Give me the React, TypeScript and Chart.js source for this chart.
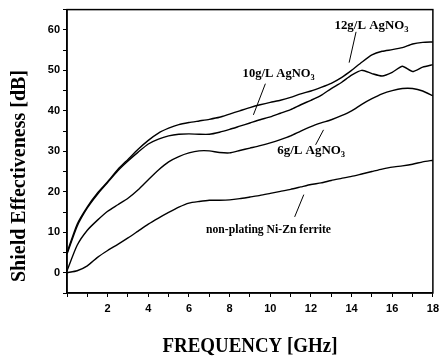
import React, { useEffect, useRef } from "react";
import { Chart, registerables } from "chart.js";

Chart.register(...registerables);

const frequencies = [0, 0.5, 1, 1.5, 2, 2.5, 3, 3.5, 4, 4.5, 5, 5.5, 6, 6.5, 7, 7.5, 8, 8.5, 9, 9.5, 10, 10.5, 11, 11.5, 12, 12.5, 13, 13.5, 14, 14.5, 15, 15.5, 16, 16.5, 17, 17.5, 18];

const ag12 = [5, 12, 16.3, 19.7, 22.5, 25.5, 28, 30.5, 32.7, 34.5, 35.7, 36.6, 37.1, 37.5, 37.9, 38.4, 39.2, 40, 40.8, 41.5, 42.1, 42.6, 43.3, 44.2, 44.9, 45.8, 46.8, 48.2, 50, 52, 53.8, 54.7, 55.1, 55.6, 56.5, 56.9, 57];
const ag10 = [4.6, 11.5, 16, 19.4, 22.3, 25.2, 27.6, 29.8, 31.8, 33, 33.8, 34.2, 34.3, 34.2, 34.2, 34.7, 35.4, 36.2, 37, 37.8, 38.5, 39.4, 40.3, 41.5, 42.6, 43.8, 45.5, 47, 48.8, 50, 49.2, 48.6, 49.5, 51, 49.7, 50.8, 51.4];
const ag6 = [0.5, 6.8, 10.5, 13, 15.2, 16.8, 18.4, 20.5, 23, 25.4, 27.4, 28.7, 29.6, 30.1, 30.1, 29.7, 29.6, 30.2, 30.8, 31.4, 32.1, 32.9, 33.8, 35, 36.1, 37, 37.8, 38.8, 40, 41.6, 43, 44.2, 45, 45.5, 45.5, 44.9, 43.7];
const nonPlating = [0, 0.5, 1.7, 3.8, 5.5, 7, 8.6, 10.3, 12, 13.5, 14.9, 16.2, 17.2, 17.6, 17.9, 17.9, 18, 18.3, 18.7, 19.1, 19.6, 20.1, 20.6, 21.2, 21.8, 22.2, 22.8, 23.3, 23.8, 24.4, 25, 25.6, 26.1, 26.4, 26.8, 27.4, 27.8];

const seriesNames = ["12g/L AgNO3", "10g/L AgNO3", "6g/L AgNO3", "non-plating Ni-Zn ferrite"];
const seriesValues = [ag12, ag10, ag6, nonPlating];

const xTitle = "FREQUENCY [GHz]";
const yTitle = "Shield Effectiveness [dB]";

// label text, sub, text anchor (x,y) in data units, pointer from/to in data units
const annotations = [
  { main: "12g/L AgNO", sub: "3", x: 13.16, y: 61, from: [14.22, 59.5], to: [13.88, 51.9], w: 74 },
  { main: "10g/L AgNO", sub: "3", x: 8.64, y: 49.1, from: [9.76, 46.7], to: [9.17, 39], w: 72 },
  { main: "6g/L AgNO", sub: "3", x: 10.34, y: 30.1, from: [12.62, 35.3], to: [12.23, 31.6], w: 68 },
  { main: "non-plating Ni-Zn ferrite", sub: "", x: 6.84, y: 10.6, from: [11.65, 19.3], to: [11.2, 13.8], w: 125 },
];

function fitText(ctx: CanvasRenderingContext2D, text: string, cx: number, cy: number, width: number, font: string, rot: number) {
  ctx.save();
  ctx.font = font;
  const m = ctx.measureText(text).width;
  ctx.translate(cx, cy);
  ctx.rotate(rot);
  ctx.scale(width / m, 1);
  ctx.textAlign = "center";
  ctx.textBaseline = "middle";
  ctx.fillStyle = "#000";
  ctx.fillText(text, 0, 0);
  ctx.restore();
}

const decorPlugin = {
  id: "decor",
  afterDraw(chart: any) {
    const ctx = chart.ctx as CanvasRenderingContext2D;
    const a = chart.chartArea;
    const xs = chart.scales.x;
    const ys = chart.scales.y;
    ctx.save();
    ctx.strokeStyle = "#000";
    ctx.lineWidth = 1.5;
    ctx.strokeRect(a.left, a.top, a.right - a.left, a.bottom - a.top);
    ctx.restore();

    fitText(ctx, xTitle, (a.left + a.right) / 2, 346, 175, "bold 22px 'Liberation Serif'", 0);
    fitText(ctx, yTitle, 20, 176, 212, "bold 20px 'Liberation Serif'", -Math.PI / 2);

    for (const an of annotations) {
      const px = xs.getPixelForValue(an.x);
      const py = ys.getPixelForValue(an.y);
      ctx.save();
      ctx.fillStyle = "#000";
      ctx.textBaseline = "middle";
      ctx.textAlign = "left";
      const font = "bold 12px 'Liberation Serif'";
      const subFont = "bold 8px 'Liberation Serif'";
      ctx.font = font;
      const mw = ctx.measureText(an.main).width;
      ctx.font = subFont;
      const sw = an.sub ? ctx.measureText(an.sub).width : 0;
      const sc = an.w / (mw + sw);
      ctx.translate(px, py);
      ctx.scale(sc, 1);
      ctx.font = font;
      ctx.fillText(an.main, 0, 0);
      if (an.sub) {
        ctx.font = subFont;
        ctx.fillText(an.sub, mw, 4);
      }
      ctx.restore();
      ctx.save();
      ctx.strokeStyle = "#000";
      ctx.lineWidth = 1;
      ctx.beginPath();
      ctx.moveTo(xs.getPixelForValue(an.from[0]), ys.getPixelForValue(an.from[1]));
      ctx.lineTo(xs.getPixelForValue(an.to[0]), ys.getPixelForValue(an.to[1]));
      ctx.stroke();
      ctx.restore();
    }
  },
};

export default function App() {
  const ref = useRef<HTMLCanvasElement | null>(null);
  useEffect(() => {
    if (!ref.current) return;
    const chart = new Chart(ref.current, {
      type: "line",
      data: {
        datasets: seriesValues.map((vals, i) => ({
          label: seriesNames[i],
          data: frequencies.map((f, j) => ({ x: f, y: vals[j] })),
          borderColor: "#000",
          borderWidth: 1.4,
          pointRadius: 0,
          tension: 0.2,
          fill: false,
        })),
      },
      options: {
        animation: false,
        responsive: false,
        layout: { autoPadding: false, padding: { top: 8, right: 6, left: 0, bottom: 0 } },
        plugins: { legend: { display: false }, tooltip: { enabled: false } },
        scales: {
          x: {
            type: "linear",
            min: 0,
            max: 18,
            afterFit: (s: any) => { s.height = 65; },
            border: { display: true, color: "#000", width: 1.5 },
            grid: { drawOnChartArea: false, drawTicks: true, tickLength: 4, color: "#000", tickColor: "#000" },
            ticks: {
              stepSize: 1,
              autoSkip: false,
              maxRotation: 0,
              padding: 5,
              color: "#000",
              font: { family: "'Liberation Sans'", weight: "bold", size: 11 },
              callback: (v: any) => (v % 2 === 0 && v > 0 ? String(v) : ""),
            },
          },
          y: {
            type: "linear",
            min: -5,
            max: 65,
            afterFit: (s: any) => { s.width = 67; },
            border: { display: true, color: "#000", width: 1.5 },
            grid: { drawOnChartArea: false, drawTicks: true, tickLength: 4, color: "#000", tickColor: "#000" },
            ticks: {
              stepSize: 5,
              autoSkip: false,
              padding: 3,
              color: "#000",
              font: { family: "'Liberation Sans'", weight: "bold", size: 11 },
              callback: (v: any) => (v % 10 === 0 && v >= 0 && v <= 60 ? String(v) : ""),
            },
          },
        },
      },
      plugins: [decorPlugin],
    });
    return () => chart.destroy();
  }, []);
  return (
    <div style={{ position: "fixed", left: 0, top: 0, width: 444, height: 358, background: "#fff" }}>
      <canvas ref={ref} width={444} height={358} style={{ width: 444, height: 358, display: "block" }} />
    </div>
  );
}
